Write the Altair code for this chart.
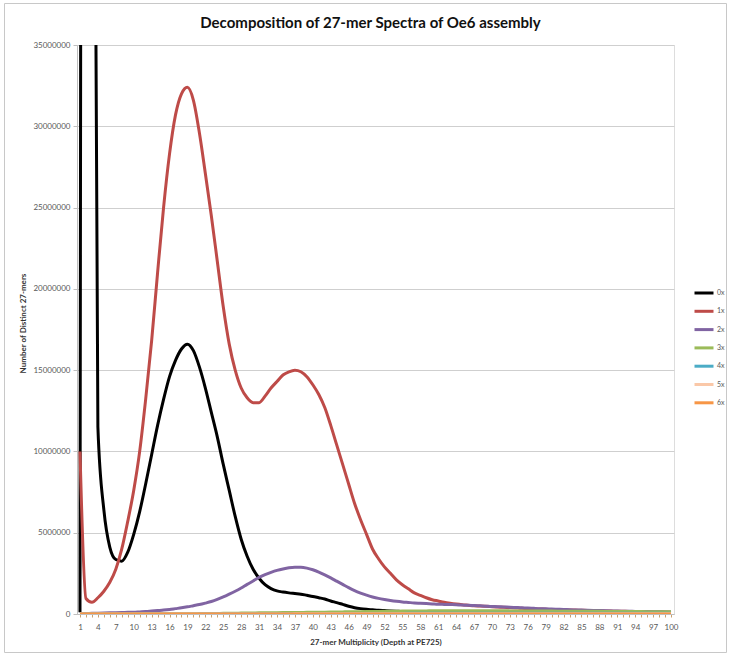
import altair as alt
import pandas as pd

# k-mer multiplicity categories on the x axis
multiplicity = list(range(1, 101))

series_names = ["0x", "1x", "2x", "3x", "4x", "5x", "6x"]
series_colors = ["#000000", "#BE4B48", "#8064A2", "#9BBB59", "#4BACC6", "#FAC8A8", "#F79646"]

# Number of distinct 27-mers per multiplicity, in millions
count_0x = [
    0.1, 210.0, 90.0, 11.5, 6.4, 4.1, 3.35, 3.25, 3.8, 4.9,
    6.3, 8.0, 9.8, 11.6, 13.2, 14.6, 15.6, 16.3, 16.6, 16.2,
    15.2, 13.9, 12.4, 10.9, 9.2, 7.6, 6.0, 4.6, 3.55, 2.75,
    2.2, 1.8, 1.56, 1.42, 1.35, 1.3, 1.26, 1.22, 1.15, 1.08,
    1.0, 0.92, 0.8, 0.7, 0.59, 0.48, 0.39, 0.33, 0.29, 0.26,
    0.23, 0.21, 0.19, 0.17, 0.15, 0.14, 0.13, 0.12, 0.11, 0.10,
    0.095, 0.09, 0.085, 0.08, 0.075, 0.07, 0.066, 0.062, 0.058, 0.055,
    0.052, 0.05, 0.048, 0.046, 0.044, 0.042, 0.04, 0.038, 0.036, 0.035,
    0.034, 0.033, 0.032, 0.031, 0.03, 0.029, 0.028, 0.027, 0.026, 0.025,
    0.024, 0.023, 0.022, 0.021, 0.02, 0.02, 0.019, 0.019, 0.018, 0.018,
]
count_1x = [
    10.0, 0.95, 0.72, 1.0, 1.4, 1.95, 2.75, 4.0, 5.7, 7.6,
    10.0, 13.2, 16.8, 21.0, 25.0, 28.3, 30.7, 32.0, 32.4, 31.6,
    29.6, 27.1, 24.5, 21.7, 18.9, 16.6, 15.0, 13.9, 13.3, 13.0,
    13.0, 13.4, 13.9, 14.3, 14.7, 14.9, 15.0, 14.9, 14.6, 14.1,
    13.5, 12.7, 11.6, 10.4, 9.2, 8.0, 6.8, 5.8, 4.9, 4.0,
    3.4, 2.9, 2.5, 2.1, 1.8, 1.55, 1.3, 1.15, 1.0, 0.88,
    0.8, 0.72, 0.66, 0.61, 0.57, 0.54, 0.51, 0.49, 0.47, 0.45,
    0.43, 0.41, 0.39, 0.37, 0.35, 0.34, 0.32, 0.31, 0.29, 0.28,
    0.27, 0.26, 0.25, 0.24, 0.23, 0.22, 0.21, 0.2, 0.19, 0.18,
    0.17, 0.165, 0.16, 0.15, 0.145, 0.14, 0.13, 0.125, 0.12, 0.11,
]
count_2x = [
    0.02, 0.03, 0.04, 0.05, 0.06, 0.07, 0.08, 0.09, 0.1, 0.11,
    0.13, 0.15, 0.18, 0.21, 0.24, 0.28, 0.33, 0.38, 0.44, 0.51,
    0.58, 0.67, 0.77, 0.9, 1.05, 1.22, 1.4, 1.6, 1.82, 2.03,
    2.25, 2.42, 2.56, 2.68, 2.77, 2.84, 2.87, 2.87, 2.82, 2.72,
    2.58, 2.41, 2.22, 2.02, 1.82, 1.62, 1.44, 1.29, 1.16, 1.05,
    0.96, 0.89, 0.83, 0.78, 0.74, 0.71, 0.68, 0.66, 0.64, 0.62,
    0.6, 0.59, 0.58, 0.57, 0.55, 0.54, 0.52, 0.5, 0.48, 0.46,
    0.45, 0.43, 0.42, 0.4, 0.38, 0.37, 0.35, 0.33, 0.32, 0.3,
    0.29, 0.28, 0.26, 0.25, 0.24, 0.23, 0.22, 0.21, 0.2, 0.19,
    0.18, 0.175, 0.17, 0.16, 0.155, 0.15, 0.14, 0.135, 0.13, 0.12,
]
count_3x = [
    0.005, 0.005, 0.005, 0.005, 0.005, 0.006, 0.006, 0.007, 0.007, 0.008,
    0.009, 0.01, 0.011, 0.012, 0.013, 0.014, 0.016, 0.017, 0.019, 0.02,
    0.024, 0.028, 0.032, 0.036, 0.04, 0.045, 0.05, 0.055, 0.06, 0.065,
    0.07, 0.074, 0.078, 0.082, 0.086, 0.09, 0.094, 0.098, 0.1, 0.105,
    0.11, 0.115, 0.12, 0.125, 0.13, 0.135, 0.14, 0.145, 0.15, 0.155,
    0.16, 0.165, 0.17, 0.175, 0.18, 0.183, 0.186, 0.19, 0.192, 0.195,
    0.197, 0.198, 0.2, 0.2, 0.2, 0.2, 0.199, 0.198, 0.197, 0.196,
    0.195, 0.194, 0.192, 0.19, 0.188, 0.186, 0.184, 0.182, 0.18, 0.178,
    0.176, 0.174, 0.172, 0.17, 0.168, 0.166, 0.164, 0.162, 0.16, 0.158,
    0.156, 0.154, 0.152, 0.15, 0.148, 0.146, 0.144, 0.142, 0.141, 0.14,
]
count_4x = [
    0.004, 0.004, 0.004, 0.004, 0.004, 0.004, 0.004, 0.004, 0.004, 0.005,
    0.005, 0.005, 0.005, 0.005, 0.006, 0.006, 0.006, 0.007, 0.007, 0.007,
    0.008, 0.008, 0.009, 0.009, 0.01, 0.01, 0.011, 0.012, 0.012, 0.013,
    0.014, 0.015, 0.016, 0.017, 0.018, 0.019, 0.02, 0.021, 0.022, 0.023,
    0.024, 0.025, 0.026, 0.027, 0.028, 0.029, 0.03, 0.031, 0.032, 0.033,
    0.034, 0.035, 0.036, 0.037, 0.038, 0.039, 0.04, 0.041, 0.042, 0.043,
    0.044, 0.045, 0.046, 0.047, 0.048, 0.049, 0.05, 0.05, 0.05, 0.05,
    0.05, 0.05, 0.05, 0.05, 0.05, 0.05, 0.05, 0.05, 0.05, 0.05,
    0.05, 0.05, 0.05, 0.05, 0.05, 0.05, 0.05, 0.05, 0.05, 0.05,
    0.05, 0.05, 0.05, 0.05, 0.05, 0.05, 0.05, 0.05, 0.05, 0.05,
]
count_5x = [
    0.003, 0.003, 0.003, 0.003, 0.003, 0.003, 0.003, 0.003, 0.003, 0.003,
    0.003, 0.003, 0.003, 0.003, 0.004, 0.004, 0.004, 0.004, 0.004, 0.004,
    0.004, 0.004, 0.005, 0.005, 0.005, 0.005, 0.005, 0.005, 0.006, 0.006,
    0.006, 0.006, 0.007, 0.007, 0.007, 0.007, 0.008, 0.008, 0.008, 0.008,
    0.009, 0.009, 0.009, 0.01, 0.01, 0.01, 0.011, 0.011, 0.011, 0.012,
    0.012, 0.012, 0.013, 0.013, 0.013, 0.014, 0.014, 0.014, 0.015, 0.015,
    0.015, 0.016, 0.016, 0.016, 0.017, 0.017, 0.017, 0.018, 0.018, 0.018,
    0.019, 0.019, 0.019, 0.02, 0.02, 0.02, 0.02, 0.02, 0.02, 0.02,
    0.02, 0.02, 0.02, 0.02, 0.02, 0.02, 0.02, 0.02, 0.02, 0.02,
    0.02, 0.02, 0.02, 0.02, 0.02, 0.02, 0.02, 0.02, 0.02, 0.02,
]
count_6x = [
    0.002, 0.002, 0.002, 0.002, 0.002, 0.002, 0.002, 0.002, 0.002, 0.002,
    0.002, 0.002, 0.002, 0.002, 0.002, 0.002, 0.002, 0.002, 0.002, 0.002,
    0.002, 0.002, 0.002, 0.002, 0.002, 0.002, 0.002, 0.002, 0.002, 0.002,
    0.002, 0.002, 0.002, 0.002, 0.002, 0.002, 0.002, 0.002, 0.002, 0.002,
    0.002, 0.002, 0.002, 0.002, 0.002, 0.002, 0.002, 0.002, 0.002, 0.002,
    0.002, 0.002, 0.002, 0.002, 0.002, 0.002, 0.002, 0.002, 0.002, 0.002,
    0.002, 0.002, 0.002, 0.002, 0.002, 0.002, 0.002, 0.002, 0.002, 0.002,
    0.002, 0.002, 0.002, 0.002, 0.002, 0.002, 0.002, 0.002, 0.002, 0.002,
    0.002, 0.002, 0.002, 0.002, 0.002, 0.002, 0.002, 0.002, 0.002, 0.002,
    0.002, 0.002, 0.002, 0.002, 0.002, 0.002, 0.002, 0.002, 0.002, 0.002,
]

y_ticks = [0, 5000000, 10000000, 15000000, 20000000, 25000000, 30000000, 35000000]

all_counts = [count_0x, count_1x, count_2x, count_3x, count_4x, count_5x, count_6x]
rows = []
for name, values in zip(series_names, all_counts):
    for k, v in zip(multiplicity, values):
        rows.append({"multiplicity": k, "series": name, "count": v * 1_000_000})
df = pd.DataFrame(rows)

FONT = "Lato"
LABEL_GREY = "#595959"

lines = alt.Chart(df).mark_line(
    strokeWidth=3, clip=True, interpolate="monotone", strokeJoin="round"
).encode(
    x=alt.X(
        "multiplicity:Q",
        scale=alt.Scale(domain=[0.5, 100.5], nice=False, zero=False),
        axis=alt.Axis(
            values=multiplicity,
            labelExpr="(datum.value - 1) % 3 == 0 ? datum.label : ''",
            labelOverlap=False,
            labelFlush=False,
            grid=False,
            tickSize=3,
            tickColor="#C8A070",
            domainColor="#BFBFBF",
            labelPadding=6,
            labelFontSize=8,
            labelColor=LABEL_GREY,
            labelFont=FONT,
            title="27-mer Multiplicity (Depth at PE725)",
            titleFont=FONT,
            titleFontSize=8,
            titleFontWeight="bold",
            titleColor="#333333",
            titleY=24,
            titleBaseline="top",
        ),
    ),
    y=alt.Y(
        "count:Q",
        scale=alt.Scale(domain=[0, 35000000], nice=False),
        axis=alt.Axis(
            values=y_ticks,
            format="d",
            grid=True,
            gridColor="#CFCFCF",
            gridWidth=1,
            tickSize=4,
            tickColor="#BFBFBF",
            domainColor="#BFBFBF",
            labelPadding=3,
            labelFontSize=8,
            labelColor=LABEL_GREY,
            labelFont=FONT,
            title="Number of Distinct 27-mers",
            titleFont=FONT,
            titleFontSize=8,
            titleFontWeight="bold",
            titleColor="#333333",
            titleX=-54,
            titleY=278,
            titleBaseline="middle",
        ),
    ),
    color=alt.Color(
        "series:N",
        scale=alt.Scale(domain=series_names, range=series_colors),
        legend=alt.Legend(
            title=None,
            orient="none",
            legendX=616,
            legendY=237,
            symbolType="stroke",
            symbolStrokeWidth=3,
            symbolSize=361,
            rowPadding=1.3,
            labelFontSize=7,
            labelColor=LABEL_GREY,
            labelFont=FONT,
            labelOffset=2,
        ),
    ),
)

# thin frame around the whole chart area
frame = alt.Chart(pd.DataFrame({"f": [0]})).mark_rect(
    fillOpacity=0, stroke="#C8C8C8", strokeWidth=1, clip=False
).encode(
    x=alt.value(-72.5), x2=alt.value(649.5), y=alt.value(-41.5), y2=alt.value(607.5)
)

chart = alt.layer(frame, lines).properties(
    width=597,
    height=569,
    title=alt.TitleParams(
        "Decomposition of 27-mer Spectra of Oe6 assembly",
        font=FONT,
        fontSize=15,
        fontWeight="bold",
        color="#111111",
        anchor="middle",
        frame="group",
        offset=14,
        dy=42,
        dx=-5,
    ),
    autosize=alt.AutoSizeParams(type="none"),
    padding={"left": 77, "top": 45, "right": 56, "bottom": 43},
).configure_view(stroke=None).configure(background="white")

chart.save("out.html", embed_options={"renderer": "svg", "actions": False})
